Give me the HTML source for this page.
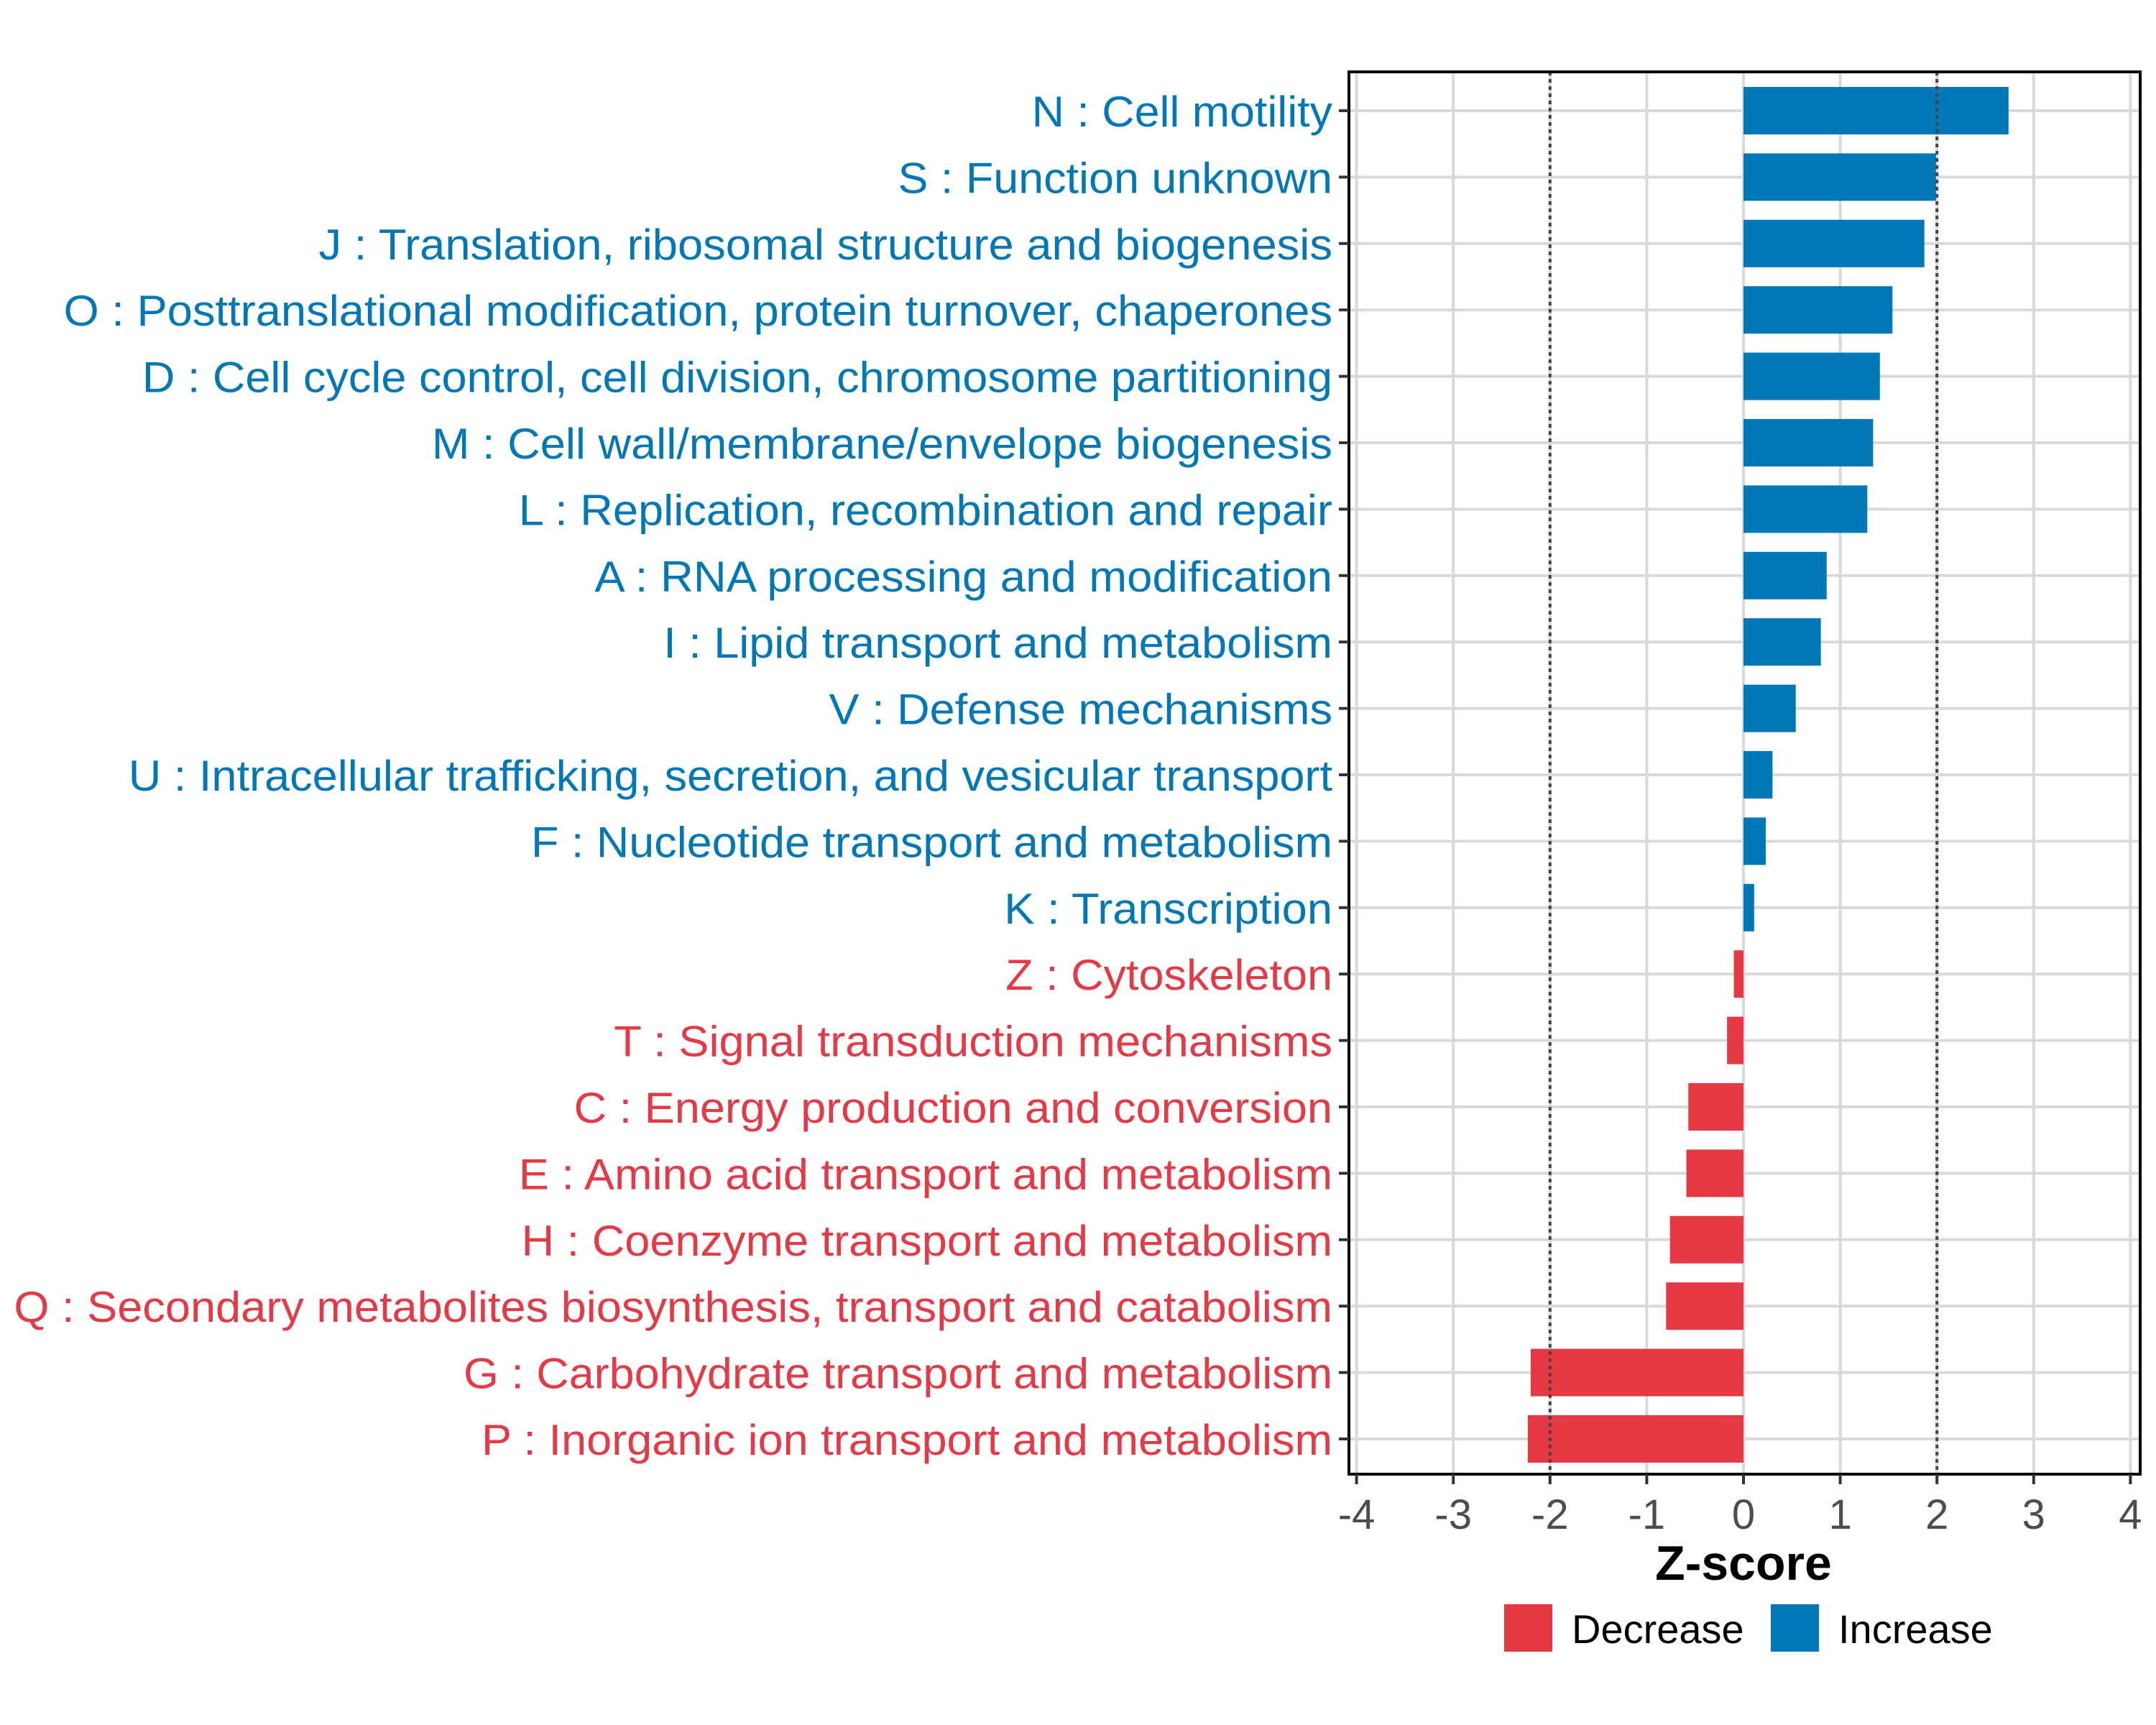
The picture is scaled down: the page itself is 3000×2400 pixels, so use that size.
<!DOCTYPE html>
<html><head><meta charset="utf-8"><style>
html,body{margin:0;padding:0;background:#fff}
svg{display:block}
text{font-family:"Liberation Sans",sans-serif}
</style></head><body>
<svg id="chart" width="3000" height="2400" viewBox="0 0 3000 2400" xmlns="http://www.w3.org/2000/svg">
<rect width="3000" height="2400" fill="#fff"/>
<g id="grid"></g>
<g id="bars"></g>
<g id="refs"></g>
<rect x="1877" y="100" width="1101" height="1951" fill="none" stroke="#000" stroke-width="4"/>
<g id="ylabels"></g>
<g id="xticks"></g>
<text x="2426" y="2198" font-size="68" font-weight="bold" text-anchor="middle" fill="#000">Z-score</text>
<g>
<rect x="2093" y="2232" width="67" height="66" fill="#E63946"/>
<text x="2187" y="2286" font-size="56" fill="#000">Decrease</text>
<rect x="2464" y="2232" width="67" height="66" fill="#0077B6"/>
<text x="2558" y="2286" font-size="56" fill="#000">Increase</text>
</g>
</svg>
<script>
const categories=["N : Cell motility","S : Function unknown","J : Translation, ribosomal structure and biogenesis","O : Posttranslational modification, protein turnover, chaperones","D : Cell cycle control, cell division, chromosome partitioning","M : Cell wall/membrane/envelope biogenesis","L : Replication, recombination and repair","A : RNA processing and modification","I : Lipid transport and metabolism","V : Defense mechanisms","U : Intracellular trafficking, secretion, and vesicular transport","F : Nucleotide transport and metabolism","K : Transcription","Z : Cytoskeleton","T : Signal transduction mechanisms","C : Energy production and conversion","E : Amino acid transport and metabolism","H : Coenzyme transport and metabolism","Q : Secondary metabolites biosynthesis, transport and catabolism","G : Carbohydrate transport and metabolism","P : Inorganic ion transport and metabolism"];
const zscores=[2.74,1.99,1.87,1.54,1.41,1.34,1.28,0.86,0.80,0.54,0.30,0.23,0.11,-0.10,-0.17,-0.57,-0.59,-0.76,-0.80,-2.20,-2.23];
const labelLefts=[750,653,233,48,105,315,378,433,483,603,95,387,730,731,447,418,378,380,12,338,351];
const xTicks=[-4,-3,-2,-1,0,1,2,3,4];
const refLines=[-2,2];
const NS="http://www.w3.org/2000/svg";
const BLUE="#0077B6",RED="#E63946";
const x=v=>2426+v*134.6;
const y=i=>154+i*92.4;
const bw=66;
function mk(tag,attrs,parent){const e=document.createElementNS(NS,tag);for(const k in attrs)e.setAttribute(k,attrs[k]);parent.appendChild(e);return e;}
const grid=document.getElementById('grid'),bars=document.getElementById('bars'),refs=document.getElementById('refs'),yl=document.getElementById('ylabels'),xt=document.getElementById('xticks');
xTicks.forEach(t=>{
 const l=mk('line',{x1:x(t),x2:x(t),y1:100,y2:2051,stroke:'#d9d9d9','stroke-width':4},grid);
 
 
 const tk=mk('line',{x1:x(t),x2:x(t),y1:2051,y2:2065,stroke:'#333','stroke-width':4},xt);
 
 
 const tx=mk('text',{x:x(t),y:2127,'font-size':58,'text-anchor':'middle',fill:'#4d4d4d'},xt);
 tx.textContent=String(t);
 
 
});
categories.forEach((c,i)=>{
 const l=mk('line',{x1:1877,x2:2978,y1:y(i),y2:y(i),stroke:'#d9d9d9','stroke-width':4},grid);
 
 
 const v=zscores[i];
 const b=mk('rect',{x:Math.min(x(0),x(v)),y:y(i)-bw/2,width:Math.abs(x(v)-x(0)),height:bw,fill:v>=0?BLUE:RED},bars);
 
 
 const tk=mk('line',{x1:1863,x2:1877,y1:y(i),y2:y(i),stroke:'#333','stroke-width':4},yl);
 
 
 const w=(968-labelLefts[i])*1.919;
 const t=mk('text',{x:1854,y:y(i)+22,'font-size':60,'text-anchor':'end',fill:v>=0?BLUE:RED,textLength:w,lengthAdjust:'spacingAndGlyphs'},yl);
 t.textContent=c;
 
 
});
refLines.forEach(r=>{
 const l=mk('line',{x1:x(r),x2:x(r),y1:100,y2:2051,stroke:'#444','stroke-width':4,'stroke-dasharray':'5 5'},refs);
 
 
});
</script>
</body></html>
